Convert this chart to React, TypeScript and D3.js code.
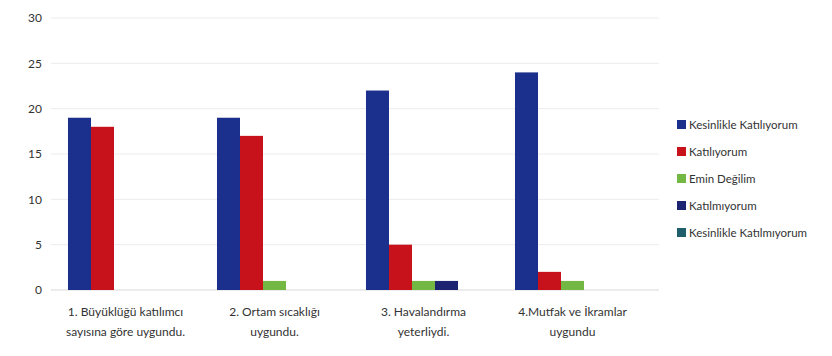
import React from "react";
import * as d3 from "d3";

const categories = [
  ["1. Büyüklüğü katılımcı", "sayısına göre uygundu."],
  ["2. Ortam sıcaklığı", "uygundu."],
  ["3. Havalandırma", "yeterliydi."],
  ["4.Mutfak ve İkramlar", "uygundu"],
];
const seriesNames = [
  "Kesinlikle Katılıyorum",
  "Katılıyorum",
  "Emin Değilim",
  "Katılmıyorum",
  "Kesinlikle Katılmıyorum",
];
const kesinlikleKatiliyorum = [19, 19, 22, 24];
const katiliyorum = [18, 17, 5, 2];
const eminDegilim = [0, 1, 1, 1];
const katilmiyorum = [0, 0, 1, 0];
const kesinlikleKatilmiyorum = [0, 0, 0, 0];
const yTicks = [0, 5, 10, 15, 20, 25, 30];

const seriesValues = [
  kesinlikleKatiliyorum,
  katiliyorum,
  eminDegilim,
  katilmiyorum,
  kesinlikleKatilmiyorum,
];
const colors = ["#1b2f8c", "#c8121b", "#72b843", "#1c2472", "#1e5f6b"];

const W = 832;
const H = 356;
const left = 51;
const right = 647;
const top = 18;
const bottom = 290;
const font = "Lato, 'Open Sans', sans-serif";

export default function App() {
  const x0 = d3
    .scaleBand<number>()
    .domain(categories.map((_, i) => i))
    .range([left, right])
    .paddingInner(0.228)
    .paddingOuter(0.114);
  const x1 = d3
    .scaleBand<number>()
    .domain(seriesNames.map((_, i) => i))
    .range([0, x0.bandwidth()]);
  const y = d3.scaleLinear().domain([0, 30]).range([bottom, top]);

  return (
    <svg
      width={W}
      height={H}
      style={{ position: "absolute", left: 0, top: 0, background: "#fff" }}
      fontFamily={font}
    >
      <rect x={0} y={0} width={W} height={H} fill="#fff" />
      {yTicks.map((t) => (
        <g key={t}>
          <line
            x1={left}
            x2={right + 12}
            y1={y(t)}
            y2={y(t)}
            stroke={t === 0 ? "#d9d9d9" : "#ececec"}
            strokeWidth={1}
          />
          <text
            x={42}
            y={y(t)}
            dy="0.35em"
            textAnchor="end"
            fontSize={12}
            fill="#333"
          >
            {t}
          </text>
        </g>
      ))}
      {seriesValues.map((vals, si) =>
        vals.map((v, ci) =>
          v > 0 ? (
            <rect
              key={`${si}-${ci}`}
              x={(x0(ci) as number) + (x1(si) as number)}
              y={y(v)}
              width={x1.bandwidth()}
              height={y(0) - y(v)}
              fill={colors[si]}
            />
          ) : null
        )
      )}
      {categories.map((lines, ci) => {
        const cx = (x0(ci) as number) + x0.bandwidth() / 2;
        return (
          <text
            key={ci}
            x={cx}
            textAnchor="middle"
            fontSize={12}
            fill="#333"
          >
            {lines.map((l, li) => (
              <tspan key={li} x={cx} y={316 + li * 20}>
                {l}
              </tspan>
            ))}
          </text>
        );
      })}
      {seriesNames.map((name, si) => (
        <g key={name} transform={`translate(677, ${125 + si * 27})`}>
          <rect x={0} y={-5} width={9} height={9} fill={colors[si]} />
          <text x={12} y={0} dy="0.35em" fontSize={11.5} fill="#333">
            {name}
          </text>
        </g>
      ))}
    </svg>
  );
}
